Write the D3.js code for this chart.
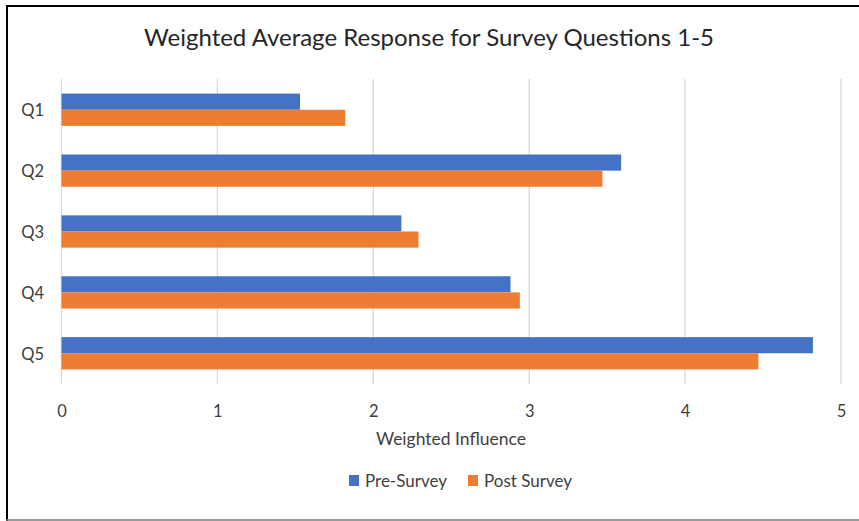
<!DOCTYPE html>
<html>
<head>
<meta charset="utf-8">
<script src="https://cdn.jsdelivr.net/npm/d3@7"></script>
<style>
  html, body { margin: 0; padding: 0; background: #fff; }
  svg { display: block; font-family: Lato, "Open Sans", sans-serif; }
</style>
</head>
<body>
<svg id="chart" width="859" height="521"></svg>
<script>
const categories = ["Q1", "Q2", "Q3", "Q4", "Q5"];
const seriesNames = ["Pre-Survey", "Post Survey"];
const preSurvey = [1.53, 3.59, 2.18, 2.88, 4.82];
const postSurvey = [1.82, 3.47, 2.29, 2.94, 4.47];
const xTicks = [0, 1, 2, 3, 4, 5];
const colors = ["#4472C4", "#ED7D31"];
const titleText = "Weighted Average Response for Survey Questions 1-5";
const xTitle = "Weighted Influence";

const svg = d3.select("#chart");
const W = 859, H = 521;

// frame
svg.append("rect").attr("x", 0).attr("y", 0).attr("width", W).attr("height", H).attr("fill", "#fff");
svg.append("line").attr("x1", 7).attr("x2", 859).attr("y1", 6).attr("y2", 6).attr("stroke", "#000").attr("stroke-width", 2);
svg.append("line").attr("x1", 7).attr("x2", 7).attr("y1", 5).attr("y2", 521).attr("stroke", "#000").attr("stroke-width", 2);
svg.append("line").attr("x1", 6).attr("x2", 859).attr("y1", 520).attr("y2", 520).attr("stroke", "#777").attr("stroke-width", 1.5);

const x = d3.scaleLinear().domain([0, 5]).range([61.5, 841]);
const y = d3.scaleBand().domain(categories).range([79, 384]).paddingInner(0.47).paddingOuter(0.24);
const ySub = d3.scaleBand().domain(seriesNames).range([0, y.bandwidth()]);

// gridlines
svg.append("g").selectAll("line").data(xTicks).join("line")
  .attr("x1", d => x(d)).attr("x2", d => x(d))
  .attr("y1", 79).attr("y2", 384)
  .attr("stroke", "#d9d9d9").attr("stroke-width", 1.3);

// bars
const data = categories.map((c, i) => ({ cat: c, vals: [preSurvey[i], postSurvey[i]] }));
const groups = svg.append("g").selectAll("g").data(data).join("g")
  .attr("transform", d => `translate(0,${y(d.cat)})`);
groups.selectAll("rect").data(d => d.vals.map((v, j) => ({ v, s: seriesNames[j], j })))
  .join("rect")
  .attr("x", x(0))
  .attr("y", d => ySub(d.s))
  .attr("width", d => x(d.v) - x(0))
  .attr("height", ySub.bandwidth())
  .attr("fill", d => colors[d.j]);

// y axis labels
const yAxis = d3.axisLeft(y).tickSize(0).tickPadding(0);
const gy = svg.append("g").attr("transform", "translate(44,1)").call(yAxis);
gy.select(".domain").remove();
gy.selectAll("text").attr("font-size", 16.5).attr("fill", "#404040").attr("font-family", "Lato, sans-serif");

// x axis labels
const xAxis = d3.axisBottom(x).tickValues(xTicks).tickFormat(d3.format("d")).tickSize(0).tickPadding(0);
const gx = svg.append("g").attr("transform", "translate(0,405)").call(xAxis);
gx.select(".domain").remove();
gx.selectAll("text").attr("font-size", 16.5).attr("fill", "#404040").attr("font-family", "Lato, sans-serif");

// title
svg.append("text").attr("x", 429).attr("y", 46).attr("text-anchor", "middle")
  .attr("font-size", 24).attr("fill", "#262626").text(titleText);

// x axis title
svg.append("text").attr("x", 451).attr("y", 445).attr("text-anchor", "middle")
  .attr("font-size", 17.5).attr("fill", "#404040").text(xTitle);

// legend
const legendX = [349, 468];
const leg = svg.append("g").selectAll("g").data(seriesNames).join("g")
  .attr("transform", (d, i) => `translate(${legendX[i]},475)`);
leg.append("rect").attr("width", 10).attr("height", 11).attr("fill", (d, i) => colors[i]);
leg.append("text").attr("x", 16).attr("y", 11.5).attr("font-size", 17).attr("fill", "#404040").text(d => d);
</script>
</body>
</html>
